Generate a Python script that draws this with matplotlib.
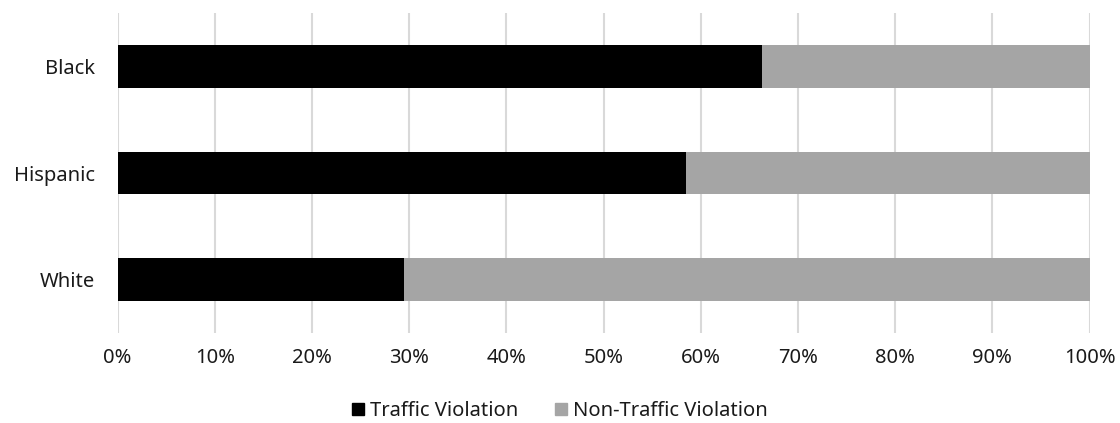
import matplotlib
matplotlib.use("Agg")
import matplotlib.pyplot as plt
from matplotlib.patches import Patch

categories = ["White", "Hispanic", "Black"]
traffic = [29.5, 58.5, 66.3]
non_traffic = [100 - v for v in traffic]
x_ticks = list(range(0, 101, 10))
x_labels = [f"{t}%" for t in x_ticks]

plt.rcParams["font.family"] = ["Noto Sans", "DejaVu Sans"]
text_color = "#1a1a1a"

fig = plt.figure(figsize=(11.2, 4.23), dpi=100)
ax = fig.add_axes([117.5 / 1120, 1 - 333 / 423, 972 / 1120, 320 / 423])

y = range(len(categories))
ax.barh(y, traffic, height=0.4, color="#000000", label="Traffic Violation", zorder=3)
ax.barh(y, non_traffic, left=traffic, height=0.4, color="#a5a5a5",
        label="Non-Traffic Violation", zorder=3)

ax.set_xlim(0, 100)
ax.set_ylim(-0.5, 2.5)
ax.set_xticks(x_ticks)
ax.set_xticklabels(x_labels, fontsize=14.5, color=text_color)
ax.set_yticks(list(y))
ax.set_yticklabels(categories, fontsize=14.5, color=text_color)
ax.tick_params(axis="both", length=0)
ax.tick_params(axis="x", pad=11)
ax.tick_params(axis="y", pad=16)
ax.grid(axis="x", color="#d9d9d9", linewidth=1.5, zorder=0)
for s in ax.spines.values():
    s.set_visible(False)

handles = [Patch(color="#000000"), Patch(color="#a5a5a5")]
fig.legend(handles, ["Traffic Violation", "Non-Traffic Violation"],
           loc="center", bbox_to_anchor=(0.5, 1 - 411 / 423), ncol=2,
           frameon=False, fontsize=14.5, handlelength=0.6, handleheight=0.6,
           handletextpad=0.3, columnspacing=1.8, labelcolor=text_color)

fig.savefig("out.png", dpi=100)
